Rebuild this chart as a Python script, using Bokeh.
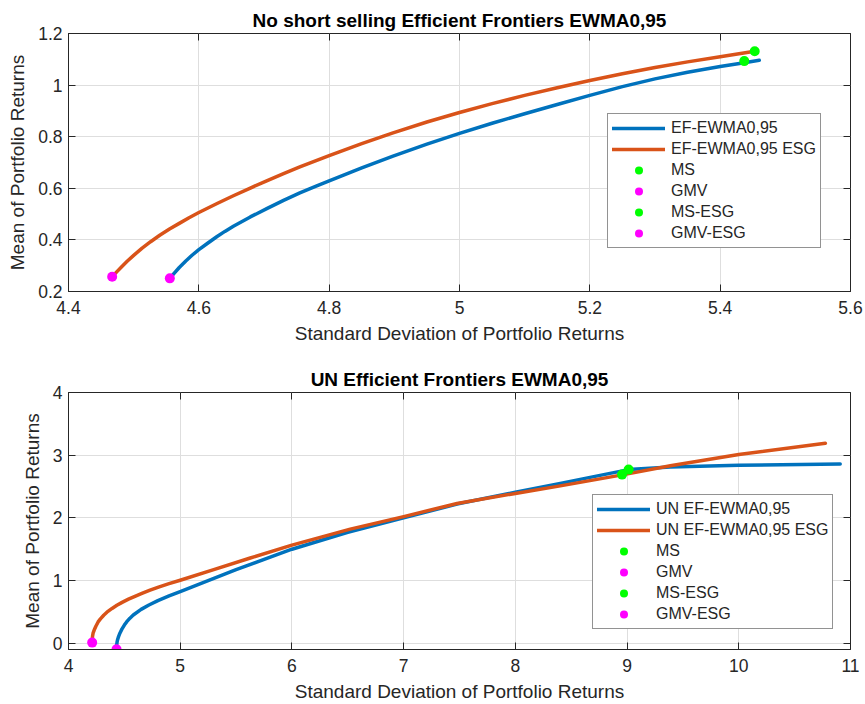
from bokeh.plotting import figure
from bokeh.layouts import column
from bokeh.models import (Range1d, FixedTicker, LinearAxis, Legend, LegendItem,
                          CustomJSTickFormatter)
from bokeh.embed import file_html
from bokeh.resources import INLINE

# ---- No short selling frontiers (EWMA 0.95) ----
ns_ef_sd = [4.5555, 4.562, 4.570, 4.580, 4.590, 4.600, 4.614,
            4.628, 4.640, 4.653, 4.679, 4.705, 4.730, 4.755, 4.780, 4.800, 4.850,
            4.898, 4.950, 5.000, 5.050, 5.100, 5.150, 5.200, 5.250, 5.300, 5.350,
            5.400, 5.437, 5.460]
ns_ef_mu = [0.251, 0.2705, 0.293, 0.3185, 0.3415, 0.362, 0.388,
            0.413, 0.433, 0.453, 0.489, 0.522, 0.553, 0.582, 0.608, 0.629, 0.679,
            0.725, 0.771, 0.813, 0.852, 0.889, 0.925, 0.960, 0.994, 1.024, 1.050,
            1.072, 1.087, 1.096]
ns_esg_sd = [4.467, 4.474, 4.482, 4.490, 4.500, 4.513, 4.526, 4.540, 4.555, 4.570,
             4.585, 4.600, 4.628, 4.653, 4.679, 4.705, 4.730, 4.755, 4.800, 4.850,
             4.898, 4.950, 5.000, 5.050, 5.100, 5.150, 5.200, 5.250, 5.300, 5.350,
             5.400, 5.453]
ns_esg_mu = [0.257, 0.276, 0.297, 0.317, 0.340, 0.368, 0.393, 0.418, 0.442, 0.464,
             0.486, 0.506, 0.541, 0.571, 0.601, 0.630, 0.657, 0.683, 0.727, 0.773,
             0.815, 0.857, 0.894, 0.928, 0.960, 0.990, 1.018, 1.044, 1.068, 1.090,
             1.110, 1.131]
ns_ms = (5.437, 1.093)
ns_gmv = (4.5555, 0.251)
ns_ms_esg = (5.453, 1.131)
ns_gmv_esg = (4.467, 0.257)

# ---- Unconstrained frontiers (EWMA 0.95) ----
un_ef_sd = [4.430, 4.4305, 4.432, 4.435, 4.440, 4.448, 4.460, 4.478, 4.500, 4.520,
            4.550, 4.580, 4.650, 4.720, 4.800, 4.900, 5.000, 5.500, 6.000, 6.500,
            7.000, 7.478, 8.000, 8.402, 9.014, 9.387, 10.000, 10.908]
un_ef_mu = [-0.095, -0.06, -0.02, 0.02, 0.06, 0.105, 0.16, 0.225, 0.29, 0.34,
            0.40, 0.45, 0.54, 0.61, 0.68, 0.755, 0.825, 1.175, 1.50, 1.77,
            2.00, 2.22, 2.41, 2.55, 2.77, 2.81, 2.84, 2.86]
un_esg_sd = [4.212, 4.215, 4.220, 4.230, 4.245, 4.265, 4.284, 4.315, 4.344, 4.390,
             4.433, 4.480, 4.537, 4.600, 4.657, 4.730, 4.806, 4.900, 5.000, 5.300,
             5.627, 6.000, 6.522, 7.000, 7.478, 8.000, 8.402, 8.970, 9.387, 10.000,
             10.775]
un_esg_mu = [0.01, 0.11, 0.16, 0.21, 0.27, 0.34, 0.385, 0.447, 0.495, 0.555,
             0.605, 0.652, 0.703, 0.753, 0.795, 0.846, 0.895, 0.950, 1.005, 1.175,
             1.36, 1.565, 1.82, 2.02, 2.23, 2.39, 2.51, 2.69, 2.83, 3.01,
             3.19]
un_ms = (9.014, 2.77)
un_gmv = (4.430, -0.095)
un_ms_esg = (8.955, 2.69)
un_gmv_esg = (4.212, 0.01)

# ---- ticks ----
ns_xticks = [4.4, 4.6, 4.8, 5.0, 5.2, 5.4, 5.6]
ns_xlabels = ["4.4", "4.6", "4.8", "5", "5.2", "5.4", "5.6"]
ns_yticks = [0.2, 0.4, 0.6, 0.8, 1.0, 1.2]
ns_ylabels = ["0.2", "0.4", "0.6", "0.8", "1", "1.2"]
un_xticks = [4, 5, 6, 7, 8, 9, 10, 11]
un_xlabels = ["4", "5", "6", "7", "8", "9", "10", "11"]
un_yticks = [0, 1, 2, 3, 4]
un_ylabels = ["0", "1", "2", "3", "4"]

BLUE = "#0072BD"
ORANGE = "#D95319"
GREEN = "#00FF00"
MAGENTA = "#FF00FF"
TXT = "#262626"
FONT = "Liberation Sans"


def make_panel(title, xr, yr, xticks, xlabels, yticks, ylabels, border_top,
               border_bottom):
    p = figure(width=865, height=352, output_backend="svg", toolbar_location=None,
               x_range=Range1d(*xr), y_range=Range1d(*yr),
               min_border_left=68, min_border_right=15,
               min_border_top=border_top, min_border_bottom=border_bottom,
               x_axis_label="Standard Deviation of Portfolio Returns",
               y_axis_label="Mean of Portfolio Returns")
    p.title.text = title
    p.title.align = "center"
    p.title.text_font = FONT
    p.title.text_font_size = "19px"
    p.title.text_font_style = "bold"
    p.title.text_color = "black"
    p.title.standoff = 6
    p.outline_line_color = TXT
    p.outline_line_width = 1
    p.background_fill_color = "white"
    p.border_fill_color = "white"

    for ax, ticks, labels in ((p.xaxis[0], xticks, xlabels), (p.yaxis[0], yticks, ylabels)):
        ax.ticker = FixedTicker(ticks=ticks)
        ax.major_label_overrides = {t: s for t, s in zip(ticks, labels)}
        ax.major_tick_in = 7
        ax.major_tick_out = 0
        ax.minor_tick_line_color = None
        ax.axis_line_color = TXT
        ax.major_tick_line_color = TXT
        ax.major_label_text_font = FONT
        ax.major_label_text_font_size = "17.5px"
        ax.major_label_text_color = TXT
        ax.axis_label_text_font = FONT
        ax.axis_label_text_font_size = "19px"
        ax.axis_label_text_font_style = "normal"
        ax.axis_label_text_color = TXT
    p.xaxis[0].major_label_standoff = 9
    p.xaxis[0].axis_label_standoff = 6
    p.yaxis[0].major_label_standoff = 6
    p.yaxis[0].axis_label_standoff = 7

    # mirrored tick marks on the top and right edges of the box
    blank = CustomJSTickFormatter(code="return ''")
    top = LinearAxis(ticker=FixedTicker(ticks=xticks), formatter=blank)
    right = LinearAxis(ticker=FixedTicker(ticks=yticks), formatter=blank)
    for ax in (top, right):
        ax.major_tick_in = 7
        ax.major_tick_out = 0
        ax.minor_tick_line_color = None
        ax.axis_line_color = None
        ax.major_tick_line_color = TXT
        ax.major_label_standoff = 0
        ax.major_label_text_font_size = "1px"
    p.add_layout(top, "above")
    p.add_layout(right, "right")

    p.xgrid.ticker = FixedTicker(ticks=xticks)
    p.ygrid.ticker = FixedTicker(ticks=yticks)
    for g in (p.xgrid, p.ygrid):
        g.grid_line_color = "#dedede"
        g.grid_line_width = 1
    return p


def draw(p, ef_sd, ef_mu, esg_sd, esg_mu, ms, gmv, ms_esg, gmv_esg, labels, loc):
    r1 = p.line(ef_sd, ef_mu, line_color=BLUE, line_width=3.5, line_join="round",
                line_cap="round")
    r2 = p.line(esg_sd, esg_mu, line_color=ORANGE, line_width=3.5, line_join="round",
                line_cap="round")
    r3 = p.scatter([ms[0]], [ms[1]], size=10, fill_color=GREEN, line_color=None)
    r4 = p.scatter([gmv[0]], [gmv[1]], size=10, fill_color=MAGENTA, line_color=None)
    r5 = p.scatter([ms_esg[0]], [ms_esg[1]], size=10, fill_color=GREEN, line_color=None)
    r6 = p.scatter([gmv_esg[0]], [gmv_esg[1]], size=10, fill_color=MAGENTA, line_color=None)
    items = [LegendItem(label=l, renderers=[r]) for l, r in
             zip(labels, (r1, r2, r3, r4, r5, r6))]
    leg = Legend(items=items, location=loc, orientation="vertical")
    leg.label_text_font = FONT
    leg.label_text_font_size = "16px"
    leg.label_text_color = TXT
    leg.glyph_width = 53
    leg.glyph_height = 20
    leg.label_height = 20
    leg.label_standoff = 6
    leg.spacing = 1
    leg.padding = 4
    leg.margin = 0
    leg.border_line_color = TXT
    leg.border_line_width = 1
    leg.background_fill_color = "white"
    leg.background_fill_alpha = 1
    p.add_layout(leg, "center")


p1 = make_panel("No short selling Efficient Frontiers EWMA0,95", (4.4, 5.6), (0.2, 1.2),
                ns_xticks, ns_xlabels, ns_yticks, ns_ylabels, 33, 61)
draw(p1, ns_ef_sd, ns_ef_mu, ns_esg_sd, ns_esg_mu, ns_ms, ns_gmv, ns_ms_esg, ns_gmv_esg,
     ["EF-EWMA0,95", "EF-EWMA0,95 ESG", "MS", "GMV", "MS-ESG", "GMV-ESG"], (539, 43))

p2 = make_panel("UN Efficient Frontiers EWMA0,95", (4, 11), (-0.1, 4),
                un_xticks, un_xlabels, un_yticks, un_ylabels, 40, 55)
draw(p2, un_ef_sd, un_ef_mu, un_esg_sd, un_esg_mu, un_ms, un_gmv, un_ms_esg, un_gmv_esg,
     ["UN EF-EWMA0,95", "UN EF-EWMA0,95 ESG", "MS", "GMV", "MS-ESG", "GMV-ESG"], (524, 20))

layout = column(p1, p2, spacing=0)
open("out.html", "w").write(file_html(layout, INLINE))
